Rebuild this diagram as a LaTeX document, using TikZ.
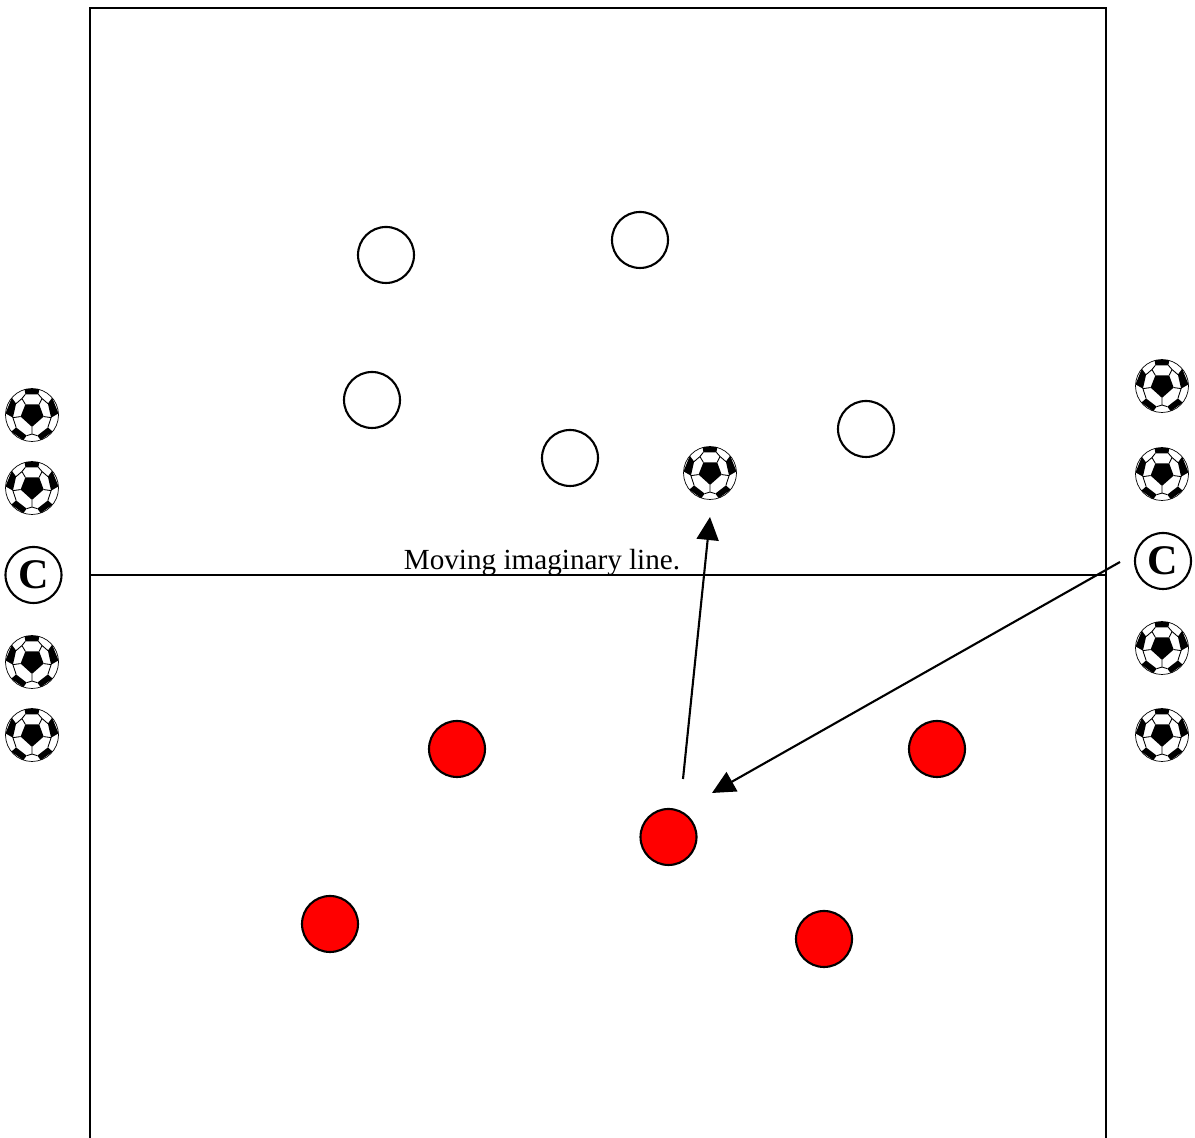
\documentclass[tikz,border=0pt]{standalone}
\usepackage{fontspec}
\setmainfont{Liberation Serif}
\usetikzlibrary{arrows.meta}
\tikzset{>={Triangle[length=0.23cm,width=0.22cm]}}
\tikzset{
  whiteplayer/.style = {draw, circle, line width = 0.6pt, minimum size = 0.56cm, inner sep = 0pt},
  redplayer/.style = {whiteplayer, fill = red},
  coach/.style = {whiteplayer, font = \fontsize{12}{12}\selectfont\bfseries},
  ball/.pic = {
    \begin{scope}[scale = 0.265]
    \draw[line width = 0.2pt] (0,0) circle [radius = 1];
    % black patches
    \fill (-0.25,0.4) -- (0.27,0.4) -- (0.44,-0.06) -- (0,-0.45) -- (-0.43,-0.06) -- cycle;
    \fill (-0.28,0.98) -- (0.28,0.98) -- (0.24,0.78) -- (-0.25,0.78) -- cycle;
    \fill (-1,0.06) -- (-0.76,0.65) -- (-0.6,0.43) -- (-0.72,-0.1) -- cycle;
    \fill (1,0.06) -- (0.76,0.65) -- (0.6,0.43) -- (0.72,-0.1) -- cycle;
    \fill (-0.78,-0.63) -- (-0.6,-0.47) -- (-0.2,-0.78) -- (-0.33,-0.95) -- cycle;
    \fill (0.78,-0.63) -- (0.6,-0.47) -- (0.2,-0.78) -- (0.33,-0.95) -- cycle;
    % seams
    \draw[line width = 0.25pt] (-0.25,0.4) -- (-0.38,0.62) -- (-0.25,0.78)
      (0.27,0.4) -- (0.38,0.62) -- (0.24,0.78)
      (-0.38,0.62) -- (-0.6,0.43) (0.38,0.62) -- (0.6,0.43)
      (-0.43,-0.06) -- (-0.72,-0.1) -- (-0.6,-0.47)
      (0.44,-0.06) -- (0.72,-0.1) -- (0.6,-0.47)
      (0,-0.45) -- (0,-0.72) -- (-0.2,-0.78) (0,-0.72) -- (0.2,-0.78);
    \end{scope}
  }
}
\begin{document}
\begin{tikzpicture}
\useasboundingbox (0,0) rectangle (11.95,11.38);
\draw[line width = 0.6pt] (0.9,0) -- (0.9,11.3) -- (11.06,11.3) -- (11.06,0);
\draw[line width = 0.6pt] (0.9,5.63) -- (11.06,5.63);
\node[anchor = center] (linelabel) at (5.42,5.75) {\fontsize{8.3}{10}\selectfont Moving imaginary line.};

\node[whiteplayer] (whiteA) at (3.86,8.83) {};
\node[whiteplayer] (whiteB) at (6.4,8.98) {};
\node[whiteplayer] (whiteC) at (3.72,7.38) {};
\node[whiteplayer] (whiteD) at (5.7,6.8) {};
\node[whiteplayer] (whiteE) at (8.66,7.09) {};

\node[redplayer] (redA) at (4.57,3.89) {};
\node[redplayer] (redB) at (9.37,3.89) {};
\node[redplayer] (redC) at (6.685,3.01) {};
\node[redplayer] (redD) at (3.3,2.14) {};
\node[redplayer] (redE) at (8.24,1.99) {};

\node[coach] (coachL) at (0.335,5.63) {C};
\node[coach] (coachR) at (11.63,5.77) {C};

\foreach \name/\x/\y in {ballA/0.32/7.23, ballB/0.32/6.5, ballC/0.32/4.76, ballD/0.32/4.03,
    ballE/11.62/7.52, ballF/11.62/6.64, ballG/11.62/4.9, ballH/11.62/4.03, ballI/7.1/6.65}
  \pic (\name) at (\x,\y) {ball};

\coordinate (passstart) at (6.83,3.59);
\coordinate (passend) at (7.1,6.21);
\coordinate (tossstart) at (11.2,5.76);
\coordinate (tossend) at (7.12,3.45);
\draw[->, line width = 0.6pt] (passstart) -- (passend);
\draw[->, line width = 0.6pt] (tossstart) -- (tossend);
\end{tikzpicture}
\end{document}
